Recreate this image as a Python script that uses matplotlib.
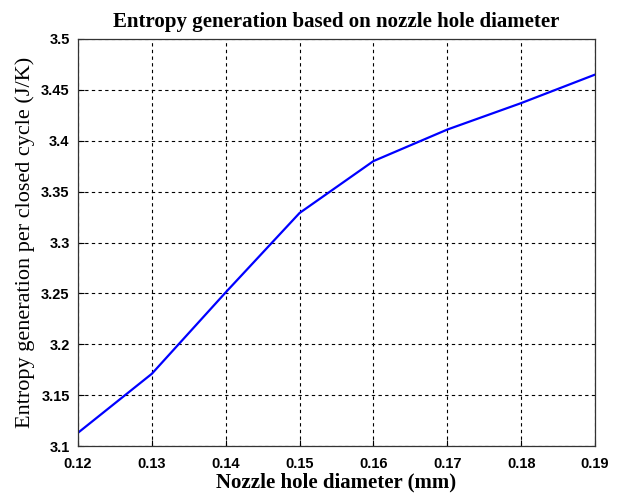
import numpy as np
import matplotlib.pyplot as plt

# nozzle hole diameter (mm) and entropy generation per closed cycle (J/K)
diameter = [0.12, 0.13, 0.14, 0.15, 0.16, 0.17, 0.18, 0.19]
entropy = [3.113, 3.171, 3.251, 3.329, 3.380, 3.411, 3.437, 3.465]

xticks = [0.12, 0.13, 0.14, 0.15, 0.16, 0.17, 0.18, 0.19]
yticks = [3.1, 3.15, 3.2, 3.25, 3.3, 3.35, 3.4, 3.45, 3.5]
xtick_labels = ['0.12', '0.13', '0.14', '0.15', '0.16', '0.17', '0.18', '0.19']
ytick_labels = ['3.1', '3.15', '3.2', '3.25', '3.3', '3.35', '3.4', '3.45', '3.5']

fig = plt.figure(figsize=(6.22, 4.99), dpi=100)
ax = fig.add_axes([78 / 622, 53 / 499, 517 / 622, 407 / 499])

ax.plot(diameter, entropy, color='#0000ff', linewidth=1.6)

ax.set_xlim(0.12, 0.19)
ax.set_ylim(3.1, 3.5)
ax.set_xticks(xticks)
ax.set_xticklabels(xtick_labels)
ax.set_yticks(yticks)
ax.set_yticklabels(ytick_labels)

# grid estilo MATLAB
ax.grid(True, color='black', linestyle=(0, (3, 3)), linewidth=0.8)
ax.tick_params(direction='in', length=4, width=0.8)
ax.tick_params(axis='x', pad=8)
ax.tick_params(axis='y', pad=6)
for lbl in ax.get_xticklabels() + ax.get_yticklabels():
    lbl.set_fontfamily('Liberation Sans')
    lbl.set_fontweight('bold')
    lbl.set_fontsize(10.5)
for sp in ax.spines.values():
    sp.set_linewidth(0.9)
    sp.set_color('#333333')

ax.set_title('Entropy generation based on nozzle hole diameter',
             fontfamily='Liberation Serif', fontweight='bold', fontsize=15, pad=9)
ax.set_xlabel('Nozzle hole diameter (mm)', fontfamily='Liberation Serif',
              fontweight='bold', fontsize=15, labelpad=1)
ax.set_ylabel('Entropy generation per closed cycle (J/K)', fontfamily='Liberation Serif',
              fontsize=16, labelpad=4)

fig.savefig('out.png', dpi=100)
